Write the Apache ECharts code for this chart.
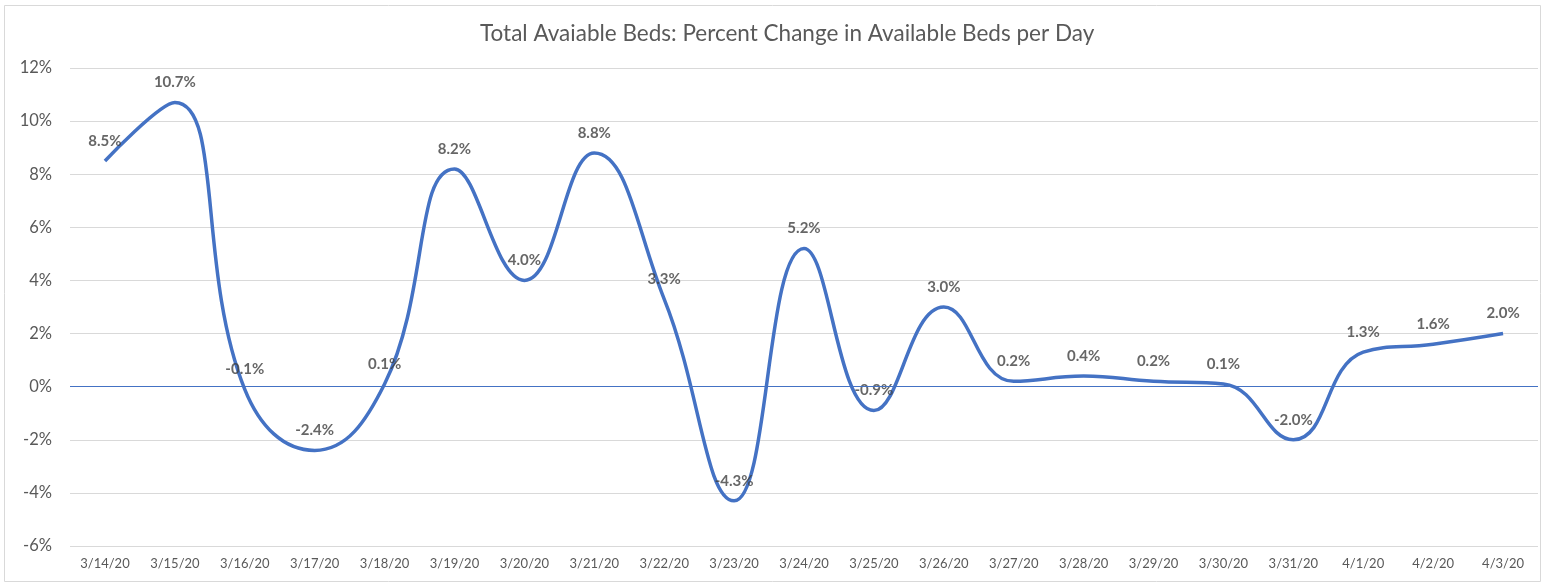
<!DOCTYPE html>
<html>
<head>
<meta charset="utf-8">
<script src="https://cdn.jsdelivr.net/npm/echarts@6/dist/echarts.min.js"></script>
<style>
html,body{margin:0;padding:0;background:#fff;}
#chart{width:1542px;height:583px;}
</style>
</head>
<body>
<div id="chart"></div>
<script>
const titleText = 'Total Avaiable Beds: Percent Change in Available Beds per Day';
const categories = ['3/14/20','3/15/20','3/16/20','3/17/20','3/18/20','3/19/20','3/20/20','3/21/20','3/22/20','3/23/20','3/24/20','3/25/20','3/26/20','3/27/20','3/28/20','3/29/20','3/30/20','3/31/20','4/1/20','4/2/20','4/3/20'];
const pctChange = [8.5, 10.7, -0.1, -2.4, 0.1, 8.2, 4.0, 8.8, 3.3, -4.3, 5.2, -0.9, 3.0, 0.2, 0.4, 0.2, 0.1, -2.0, 1.3, 1.6, 2.0];
const yMin = -6, yMax = 12, yStep = 2;

const FONT = 'Lato';
const chart = echarts.init(document.getElementById('chart'), null, {renderer: 'canvas'});
chart.setOption({
  backgroundColor: '#fff',
  animation: false,
  graphic: [{
    type: 'rect', left: 2, top: 3, shape: {width: 1536, height: 576},
    style: {fill: 'none', stroke: '#d9d9d9', lineWidth: 1}
  }],
  title: {
    text: titleText, left: 475, top: 17,
    textStyle: {fontFamily: FONT, fontSize: 22.5, fontWeight: 'normal', color: '#595959'}
  },
  grid: {left: 70, right: 4, top: 68, bottom: 37, containLabel: false},
  xAxis: {
    type: 'category', data: categories, boundaryGap: true,
    axisLine: {show: false}, axisTick: {show: false},
    axisLabel: {fontFamily: FONT, fontSize: 13, color: '#595959', margin: 11, interval: 0}
  },
  yAxis: {
    type: 'value', min: yMin, max: yMax, interval: yStep,
    axisLine: {show: false}, axisTick: {show: false},
    axisLabel: {fontFamily: FONT, fontSize: 16.5, color: '#595959', margin: 18, formatter: v => v + '%'},
    splitLine: {lineStyle: {color: '#d9d9d9', width: 1}}
  },
  series: [{
    type: 'line', data: pctChange, smooth: 0.45,
    symbol: 'none',
    lineStyle: {color: '#4472C4', width: 3.5},
    markLine: {
      silent: true, symbol: 'none', label: {show: false},
      lineStyle: {color: '#4472C4', width: 1.2, type: 'solid'},
      data: [{yAxis: 0}]
    },
    z: 2
  }, {
    type: 'scatter', data: pctChange, symbol: 'circle', symbolSize: 1,
    itemStyle: {color: 'rgba(0,0,0,0)'},
    label: {
      show: true, position: 'top', distance: 12,
      formatter: p => p.value.toFixed(1) + '%',
      fontFamily: FONT, fontSize: 15, fontWeight: 'bold', color: '#404040'
    },
    z: 3
  }]
});
</script>
</body>
</html>
